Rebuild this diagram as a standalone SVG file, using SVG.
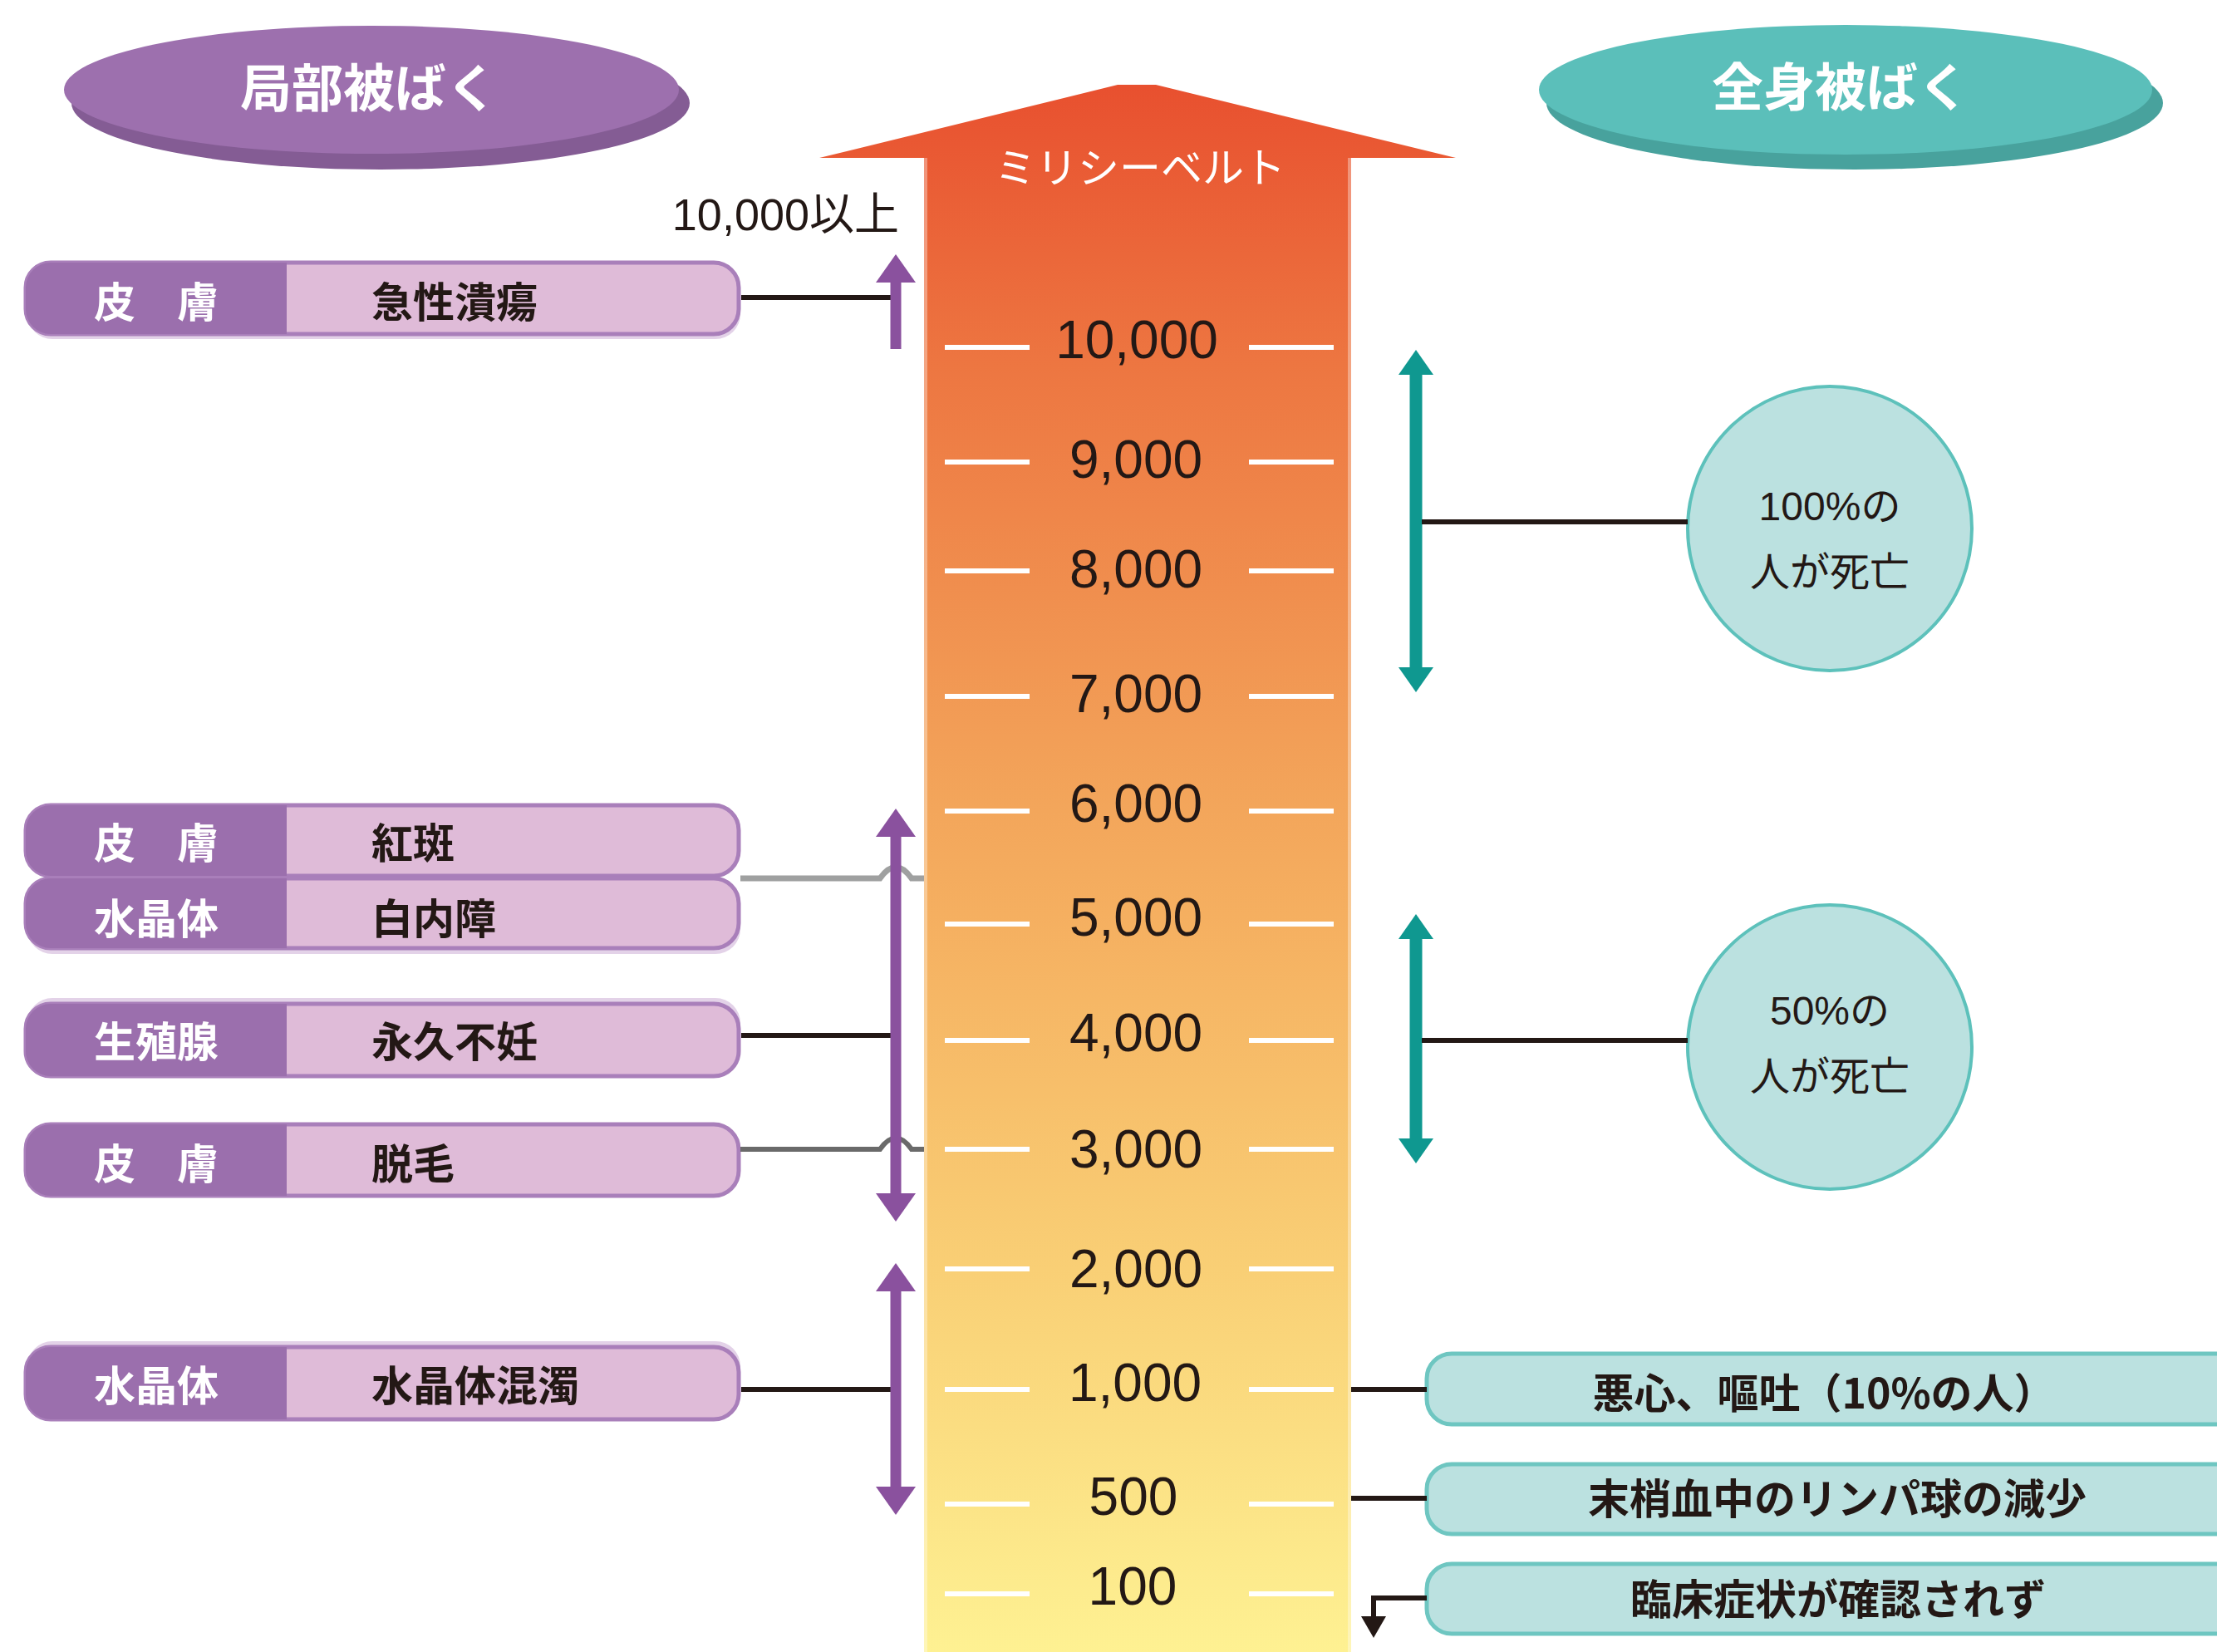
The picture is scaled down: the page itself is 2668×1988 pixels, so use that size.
<svg xmlns="http://www.w3.org/2000/svg" width="2668" height="1988" viewBox="0 0 2668 1988">
<defs>
  <linearGradient id="scaleGrad" gradientUnits="userSpaceOnUse" x1="0" y1="102" x2="0" y2="1988">
    <stop offset="0" stop-color="#E8502F"/>
    <stop offset="0.179" stop-color="#ED7641"/>
    <stop offset="0.463" stop-color="#F3A65B"/>
    <stop offset="0.529" stop-color="#F5AF60"/>
    <stop offset="0.756" stop-color="#F9CF75"/>
    <stop offset="0.963" stop-color="#FDEC8E"/>
    <stop offset="1" stop-color="#FEF192"/>
  </linearGradient>
  <marker id="mPurple" markerUnits="userSpaceOnUse" viewBox="0 0 34 48" markerWidth="34" markerHeight="48" refX="1" refY="24" orient="auto-start-reverse">
    <path d="M0,0 L34,24 L0,48 Z" fill="#8A519E"/>
  </marker>
  <marker id="mTeal" markerUnits="userSpaceOnUse" viewBox="0 0 30 42" markerWidth="30" markerHeight="42" refX="1" refY="21" orient="auto-start-reverse">
    <path d="M0,0 L30,21 L0,42 Z" fill="#0F9890"/>
  </marker>
  <marker id="mBlack" markerUnits="userSpaceOnUse" viewBox="0 0 26 30" markerWidth="26" markerHeight="30" refX="1" refY="15" orient="auto">
    <path d="M0,0 L26,15 L0,30 Z" fill="#231815"/>
  </marker>
</defs>
<style>
  .jp{font-family:"Noto Sans CJK JP","Noto Sans CJK SC",sans-serif}
  .num{font-family:"Liberation Sans","Noto Sans CJK JP",sans-serif}
  .head{font-size:62px;font-weight:700;fill:#FFFFFF;text-anchor:middle;dominant-baseline:central}
  .scale-num{font-size:64px;fill:#231815;text-anchor:middle;dominant-baseline:central}
  .tick{stroke:#FFFFFF;stroke-width:6}
  .lshadow{fill:#E3D2E8}
  .lbox{fill:#DFBBD8;stroke:#A97FBA;stroke-width:5}
  .ldark{fill:#9B6FAD}
  .llabel{font-size:50px;font-weight:700;fill:#FFFFFF;text-anchor:middle;dominant-baseline:central}
  .ltext{font-size:50px;font-weight:700;fill:#231815;dominant-baseline:central}
  .tbox{fill:#BBE1E0;stroke:#6EC6C1;stroke-width:5}
  .ttext{font-size:50px;font-weight:700;fill:#231815;text-anchor:middle;dominant-baseline:central}
  .circ{fill:#BBE1E0;stroke:#5DC1BB;stroke-width:4}
  .ctext{font-size:48px;fill:#231815;text-anchor:middle;dominant-baseline:central}
  .blk{stroke:#231815;stroke-width:6;fill:none}
  .gry{stroke:#9FA0A0;stroke-width:7;fill:none}
  .gry2{stroke:#6A6A6A;stroke-width:6;fill:none}
  .parr{stroke:#8A519E;stroke-width:13;fill:none}
  .tarr{stroke:#0F9890;stroke-width:15;fill:none}
</style>
<rect x="0" y="0" width="2668" height="1988" fill="#FFFFFF"/>

<!-- Heading ellipses -->
<g id="head-local">
  <ellipse cx="458" cy="124" rx="372" ry="80" fill="#845C94"/>
  <ellipse cx="447" cy="108" rx="370" ry="77" fill="#9D70AE"/>
  <text class="jp head" x="444" y="102">局部被ばく</text>
</g>
<g id="head-whole">
  <ellipse cx="2232" cy="124" rx="371" ry="80" fill="#48A29D"/>
  <ellipse cx="2221" cy="108" rx="369" ry="78" fill="#5BBFBA"/>
  <text class="jp head" x="2215" y="101">全身被ばく</text>
</g>

<!-- Central scale arrow -->
<g id="scale">
  <path d="M1345,102 L1391,102 L1752,190 L1626,190 L1626,1988 L1112,1988 L1112,190 L986,190 Z" fill="url(#scaleGrad)"/>
  <path d="M1112,190 V1988 M1626,190 V1988" stroke="#FFFFFF" stroke-opacity="0.35" stroke-width="8" fill="none"/>
  <text class="jp" x="1372" y="198" font-size="50" fill="#FFFFFF" text-anchor="middle" dominant-baseline="central">ミリシーベルト</text>
  <g>
    <path class="tick" d="M1137,418 H1239 M1503,418 H1605"/>
    <path class="tick" d="M1137,556 H1239 M1503,556 H1605"/>
    <path class="tick" d="M1137,687 H1239 M1503,687 H1605"/>
    <path class="tick" d="M1137,838 H1239 M1503,838 H1605"/>
    <path class="tick" d="M1137,976 H1239 M1503,976 H1605"/>
    <path class="tick" d="M1137,1112 H1239 M1503,1112 H1605"/>
    <path class="tick" d="M1137,1252 H1239 M1503,1252 H1605"/>
    <path class="tick" d="M1137,1383 H1239 M1503,1383 H1605"/>
    <path class="tick" d="M1137,1527 H1239 M1503,1527 H1605"/>
    <path class="tick" d="M1137,1672 H1239 M1503,1672 H1605"/>
    <path class="tick" d="M1137,1810 H1239 M1503,1810 H1605"/>
    <path class="tick" d="M1137,1918 H1239 M1503,1918 H1605"/>
  </g>
  <text class="num scale-num" x="1368" y="409">10,000</text>
  <text class="num scale-num" x="1367" y="553">9,000</text>
  <text class="num scale-num" x="1367" y="685">8,000</text>
  <text class="num scale-num" x="1367" y="835">7,000</text>
  <text class="num scale-num" x="1367" y="967">6,000</text>
  <text class="num scale-num" x="1367" y="1104">5,000</text>
  <text class="num scale-num" x="1367" y="1243">4,000</text>
  <text class="num scale-num" x="1367" y="1383">3,000</text>
  <text class="num scale-num" x="1367" y="1527">2,000</text>
  <text class="num scale-num" x="1366" y="1664">1,000</text>
  <text class="num scale-num" x="1364" y="1801">500</text>
  <text class="num scale-num" x="1363" y="1909">100</text>
</g>

<text id="label-over10000" class="num" x="1082" y="258" font-size="54" fill="#231815" text-anchor="end" dominant-baseline="central">10,000以上</text>

<!-- Left (local exposure) nodes -->
<g id="node-kyusei-kaiyo">
  <rect class="lshadow" x="33" y="321" width="858" height="87" rx="30"/>
  <rect class="lbox" x="31" y="316" width="858" height="86" rx="30"/>
  <path class="ldark" d="M345,316 H61 A30,30 0 0 0 31,346 V372 A30,30 0 0 0 61,402 H345 Z"/>
  <text class="jp llabel" x="188" y="360">皮　膚</text>
  <text class="jp ltext" x="447" y="360">急性潰瘍</text>
</g>
<g id="node-kohan">
  <rect class="lbox" x="31" y="969" width="858" height="85" rx="30"/>
  <path class="ldark" d="M345,969 H61 A30,30 0 0 0 31,999 V1024 A30,30 0 0 0 61,1054 H345 Z"/>
  <text class="jp llabel" x="188" y="1011">皮　膚</text>
  <text class="jp ltext" x="447" y="1011">紅斑</text>
</g>
<g id="node-hakunaisho">
  <rect class="lshadow" x="33" y="1062" width="858" height="86" rx="30"/>
  <rect class="lbox" x="31" y="1057" width="858" height="84" rx="30"/>
  <path class="ldark" d="M345,1057 H61 A30,30 0 0 0 31,1087 V1111 A30,30 0 0 0 61,1141 H345 Z"/>
  <text class="jp llabel" x="188" y="1102">水晶体</text>
  <text class="jp ltext" x="447" y="1102">白内障</text>
</g>
<g id="node-eikyu-funin">
  <rect class="lshadow" x="33" y="1201" width="858" height="86" rx="30"/>
  <rect class="lbox" x="31" y="1208" width="858" height="87" rx="30"/>
  <path class="ldark" d="M345,1208 H61 A30,30 0 0 0 31,1238 V1265 A30,30 0 0 0 61,1295 H345 Z"/>
  <text class="jp llabel" x="188" y="1250">生殖腺</text>
  <text class="jp ltext" x="447" y="1250">永久不妊</text>
</g>
<g id="node-datsumo">
  <rect class="lbox" x="31" y="1353" width="858" height="86" rx="30"/>
  <path class="ldark" d="M345,1353 H61 A30,30 0 0 0 31,1383 V1409 A30,30 0 0 0 61,1439 H345 Z"/>
  <text class="jp llabel" x="188" y="1397">皮　膚</text>
  <text class="jp ltext" x="447" y="1397">脱毛</text>
</g>
<g id="node-suishotai-kondaku">
  <rect class="lshadow" x="33" y="1614" width="858" height="86" rx="30"/>
  <rect class="lbox" x="31" y="1621" width="858" height="87" rx="30"/>
  <path class="ldark" d="M345,1621 H61 A30,30 0 0 0 31,1651 V1678 A30,30 0 0 0 61,1708 H345 Z"/>
  <text class="jp llabel" x="188" y="1664">水晶体</text>
  <text class="jp ltext" x="447" y="1664">水晶体混濁</text>
</g>

<!-- Right (whole-body exposure) nodes -->
<g id="node-death100">
  <circle class="circ" cx="2202" cy="636" r="171"/>
  <text class="num ctext" x="2202" y="609">100%の</text>
  <text class="jp ctext" x="2202" y="684">人が死亡</text>
</g>
<g id="node-death50">
  <circle class="circ" cx="2202" cy="1260" r="171"/>
  <text class="num ctext" x="2202" y="1216">50%の</text>
  <text class="jp ctext" x="2202" y="1291">人が死亡</text>
</g>
<g id="node-oshin">
  <rect class="tbox" x="1717" y="1629" width="1010" height="85" rx="30"/>
  <text class="jp ttext" x="2195" y="1673">悪心、嘔吐（10%の人）</text>
</g>
<g id="node-lymph">
  <rect class="tbox" x="1717" y="1762" width="1010" height="84" rx="30"/>
  <text class="jp ttext" x="2211" y="1800">末梢血中のリンパ球の減少</text>
</g>
<g id="node-nosymptom">
  <rect class="tbox" x="1717" y="1882" width="1010" height="84" rx="30"/>
  <text class="jp ttext" x="2212" y="1921">臨床症状が確認されず</text>
</g>

<!-- Connectors and range arrows -->
<g id="connectors">
  <path class="blk" d="M892,358 H1072"/>
  <path class="gry" d="M891,1057 H1059 Q1078,1030 1097,1057 H1112"/>
  <path class="blk" d="M892,1246 H1072"/>
  <path class="gry2" d="M891,1383 H1059 Q1078,1356 1097,1383 H1112"/>
  <path class="blk" d="M892,1672 H1072"/>
  <path class="parr" d="M1078,420 V339" marker-end="url(#mPurple)"/>
  <path class="parr" d="M1078,1006 V1437" marker-start="url(#mPurple)" marker-end="url(#mPurple)"/>
  <path class="parr" d="M1078,1553 V1790" marker-start="url(#mPurple)" marker-end="url(#mPurple)"/>
  <path class="tarr" d="M1704,450 V804" marker-start="url(#mTeal)" marker-end="url(#mTeal)"/>
  <path class="tarr" d="M1704,1129 V1371" marker-start="url(#mTeal)" marker-end="url(#mTeal)"/>
  <path class="blk" d="M1711,628 H2031"/>
  <path class="blk" d="M1711,1252 H2031"/>
  <path class="blk" d="M1626,1672 H1717"/>
  <path class="blk" d="M1626,1803 H1717"/>
  <path class="blk" d="M1717,1923 H1653 V1946" marker-end="url(#mBlack)"/>
</g>
</svg>
